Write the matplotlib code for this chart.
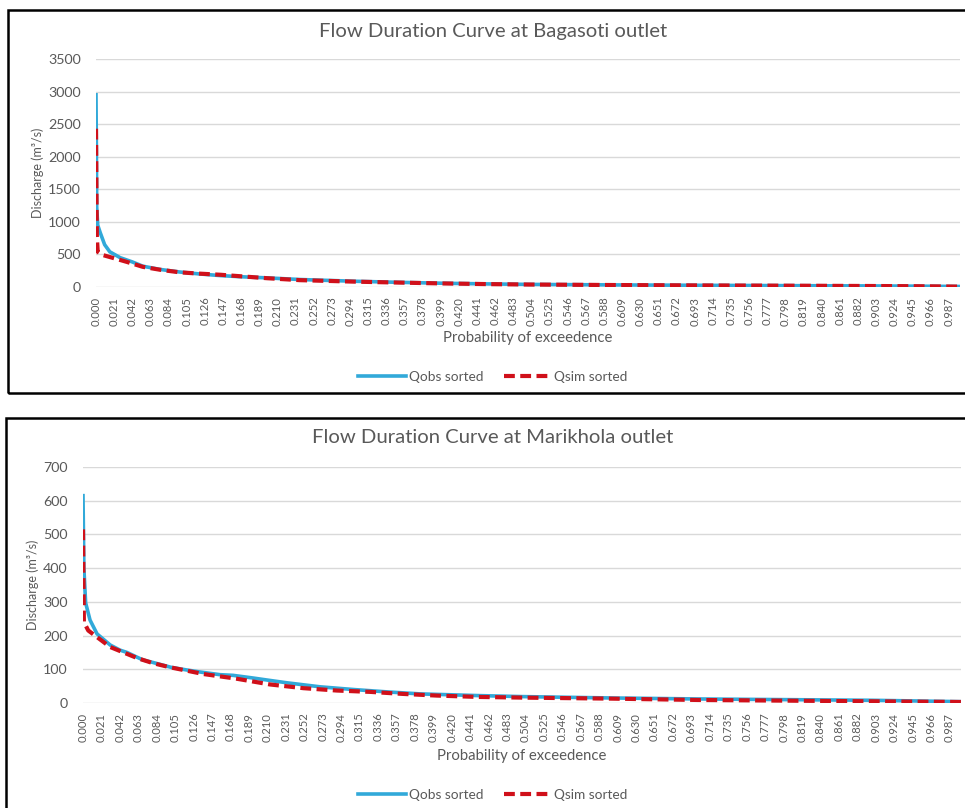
"""
Flow duration curves (observed vs simulated) at Bagasoti and Marikhola outlets.
"""
import numpy as np
import matplotlib.pyplot as plt
from matplotlib.patches import Rectangle

plt.rcParams['font.family'] = ['Lato', 'DejaVu Sans']

# Bagasoti outlet
bag_p_obs = [0, 0.0005, 0.0008, 0.002, 0.005, 0.010, 0.016, 0.028, 0.042, 0.054, 0.074,
             0.097, 0.120, 0.144, 0.167, 0.198, 0.236, 0.300, 0.350, 0.400, 0.450, 0.500,
             0.600, 0.700, 0.800, 0.900, 0.950, 1.000]
bag_q_obs = [2950, 2000, 1230, 950, 830, 650, 540, 450, 385, 320, 270,
             230, 200, 175, 158, 140, 115, 88, 72, 58, 48, 40,
             32, 26, 21, 16, 13, 8]
bag_p_sim = [0, 0.0005, 0.001, 0.002, 0.008, 0.020, 0.036, 0.054, 0.074, 0.097, 0.120,
             0.144, 0.167, 0.198, 0.236, 0.300, 0.350, 0.400, 0.450, 0.500, 0.600,
             0.700, 0.800, 0.900, 0.950, 1.000]
bag_q_sim = [2430, 1500, 770, 540, 490, 445, 384, 310, 265, 225, 205,
             188, 165, 135, 105, 82, 68, 55, 45, 38, 30,
             24, 20, 15, 12, 6]

# Marikhola outlet
mar_p_obs = [0, 0.001, 0.003, 0.008, 0.016, 0.031, 0.042, 0.050, 0.068, 0.080, 0.100,
             0.118, 0.133, 0.156, 0.171, 0.194, 0.210, 0.232, 0.270, 0.308, 0.346,
             0.384, 0.450, 0.500, 0.600, 0.700, 0.800, 0.900, 0.950, 1.000]
mar_q_obs = [615, 400, 297, 246, 205, 172, 157, 150, 128, 120, 106,
             98, 92, 84, 82, 74, 68, 60, 48, 40, 33,
             27, 22, 19, 15, 12, 10, 8, 6, 4]
mar_p_sim = [0, 0.001, 0.006, 0.031, 0.062, 0.080, 0.099, 0.137, 0.175, 0.213, 0.251,
             0.289, 0.327, 0.364, 0.403, 0.450, 0.500, 0.600, 0.700, 0.800, 0.900,
             0.950, 1.000]
mar_q_sim = [515, 240, 215, 166, 133, 118, 106, 86, 72, 55, 44,
             37, 33, 27, 22, 18, 16, 13, 9, 7, 5,
             4, 3]

tick_pos = np.arange(48) * 0.021
tick_labels = ['%.3f' % t for t in tick_pos]

GREY = '#595959'
BLUE = '#31A9D9'
RED = '#D0101A'

fig = plt.figure(figsize=(9.65, 8.08), dpi=100)
W, H = 965.0, 808.0

# panel frames
fig.add_artist(Rectangle((8 / W, 1 - 393 / H), 1.0, (393 - 10) / H, transform=fig.transFigure,
                         fill=False, edgecolor='black', linewidth=1.8))
fig.add_artist(Rectangle((6 / W, -0.1), 1.0, 0.1 + 1 - 418 / H, transform=fig.transFigure,
                         fill=False, edgecolor='black', linewidth=1.8))


def draw_fdc(box, p_obs, q_obs, p_sim, q_sim, ymax, ystep, title, title_y, ylab_x, legend_y):
    left, top, right, bottom = box
    ax = fig.add_axes([left / W, 1 - bottom / H, (right - left) / W, (bottom - top) / H])
    ax.plot(p_obs, q_obs, color=BLUE, lw=2.6, label='Qobs sorted', solid_joinstyle='round')
    ax.plot(p_sim, q_sim, color=RED, lw=3.0, linestyle=(0, (2.6, 1.3)), label='Qsim sorted')
    ax.set_xlim(0, 1)
    ax.set_ylim(0, ymax)
    ax.set_yticks(np.arange(0, ymax + 1, ystep))
    ax.set_xticks(tick_pos)
    ax.set_xticklabels(tick_labels, rotation=90)
    ax.tick_params(axis='x', length=0, pad=7, labelsize=8.1, labelcolor=GREY)
    ax.tick_params(axis='y', length=0, pad=11, labelsize=10.3, labelcolor=GREY)
    ax.grid(axis='y', color='#D9D9D9', lw=1)
    ax.set_axisbelow(True)
    for s in ax.spines.values():
        s.set_visible(False)

    ax.set_xlabel('Probability of exceedence', fontsize=10.7, color=GREY)
    ax.xaxis.set_label_coords(0.5, -0.225)
    ax.xaxis.label.set_va('center')
    ax.set_ylabel('Discharge (m³/s)', fontsize=9.0, color=GREY)
    ax.yaxis.set_label_coords(ylab_x, 0.5)
    ax.yaxis.label.set_va('center')

    fig.text(493 / W, 1 - title_y / H, title, ha='center', va='center', fontsize=14.6, color=GREY)
    ax.legend(loc='center', bbox_to_anchor=(493 / W, 1 - legend_y / H), bbox_transform=fig.transFigure,
              ncol=2, frameon=False, fontsize=9.8, handlelength=3.5, columnspacing=1.5,
              handletextpad=0.2, labelcolor=GREY)
    return ax


draw_fdc((96, 59, 960, 287), bag_p_obs, bag_q_obs, bag_p_sim, bag_q_sim, 3500, 500,
         'Flow Duration Curve at Bagasoti outlet', 32, -0.067, 377)
draw_fdc((83, 467, 961, 703), mar_p_obs, mar_q_obs, mar_p_sim, mar_q_sim, 700, 100,
         'Flow Duration Curve at Marikhola outlet', 437, -0.057, 795)

fig.savefig('out.png', dpi=100)
